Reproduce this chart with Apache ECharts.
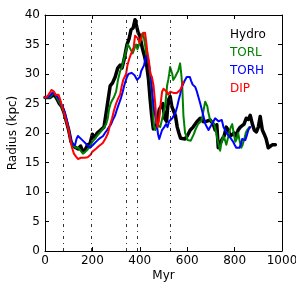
<!DOCTYPE html>
<html>
<head>
<meta charset="utf-8">
<script src="https://cdn.jsdelivr.net/npm/echarts@6/dist/echarts.min.js"></script>
<style>html,body{margin:0;padding:0;background:#fff;}#c{width:296px;height:296px;}</style>
</head>
<body>
<div id="c"></div>
<script>
const xTicks = [0, 200, 400, 600, 800, 1000];
const yTicks = [0, 5, 10, 15, 20, 25, 30, 35, 40];
const eventMyr = [77, 197, 342, 389, 528];

const hydroMyr = [0,10,20,30,40,50,60,70,80,90,100,110,120,130,140,150,160,170,180,190,200,210,220,232,240,249,262,275,285,296,307,317,325,334,346,355,363,372,380,387,393,400,410,420,430,437,443,450,457,465,473,482,490,497,505,513,520,528,535,541,550,558,565,572,580,591,600,613,625,641,655,669,683,697,710,718,725,731,739,748,756,765,773,782,790,799,807,815,824,832,840,849,858,866,875,883,892,900,908,917,925,933,942,950,959,966,972];
const hydroKpc = [26,26,26,26.3,26.5,25.8,25,24.5,23.5,22,20.5,18.5,17.8,17.5,17.3,17.8,16.8,17.2,18,18.2,19.8,19.2,20,20.4,20.2,21,24.5,28,28.5,29.5,31,31.5,31,32.5,35,36,37.5,37.8,39.2,39.3,37,36.5,34.5,33,31.2,29,26,23,20.7,20.5,21.5,24,24.5,25,22.5,22,25.5,26.2,24.5,23.9,23,21,20,19.1,19.2,19,19.5,20.5,21,21.9,22.5,21.9,22,22.2,21.5,20.5,21.4,17.5,17.2,19,19.5,21,20.5,19.5,19.8,20,19.5,20.5,21,21,21.5,22.5,22.3,23,21.5,20.5,20.2,21,22.8,20.5,19.8,19,17.5,17.8,18,18,18];

const torlMyr = [0,10,20,30,40,50,60,70,80,90,100,110,120,130,140,150,160,170,180,190,200,210,220,230,241,250,258,265,270,277,283,290,300,308,317,325,333,342,350,357,363,370,376,384,390,397,406,414,422,428,435,443,452,460,466,473,480,486,492,498,507,515,520,524,528,532,537,541,549,555,562,570,575,579,584,591,596,602,608,615,621,628,634,640,646,652,659,665,672,676,680,685,689,695,701,708,714,720,727,733,739,745,752,758,765,771,777,784,790,796,803,809,815,822,828,834,841,847,853,862];
const torlKpc = [26,26,26,26.5,26.8,26,25.2,24.5,23.5,22,20.5,18.5,17.8,17.5,17.5,17,16.5,16.8,17.2,17.8,18.5,19,19.5,20,20.5,21,21.5,22.5,24,25,25.5,26,27,29,30.5,31.2,31,34,35,34.5,34.5,33.5,33.5,35,34.2,34,36,37,35,33,32.5,30,26.5,21,20.5,21.5,21.5,21,22,23,24.5,28,29,30,31.2,31.5,30,29,29.5,30,30.5,31.8,30,28,23,20,19.5,18.8,18.5,18.7,19,19.8,20.5,21,21.5,21.8,22,23,24.5,25.3,25.5,24.5,23.5,22.5,22,21.7,21.5,20.5,19,18,17,18.5,19.5,19,18,19,20,21,21.5,20,18.5,19,20,18.5,17.5,18,19,20,20.5,21];

const torhMyr = [0,10,20,30,37,45,55,63,72,80,87,93,100,106,114,120,127,133,139,146,152,158,165,171,177,184,190,197,203,209,215,222,228,236,245,253,262,270,279,287,296,302,308,315,321,328,334,340,346,352,359,365,372,378,384,389,393,400,406,412,418,423,427,431,435,439,443,448,452,456,460,465,469,473,477,482,486,494,503,511,517,524,530,537,545,551,558,564,570,577,583,591,598,605,611,617,623,629,634,641,648,655,662,669,676,683,690,697,704,711,718,725,732,739,746,753,760,769,775,782,788,794,800,807,813,820,826,832,838,845,851,858,866];
const torhKpc = [26,26,26.3,26.8,27,26.5,26,25.5,24.5,24,23,22,20.5,19.5,18,17.8,18,19,19.5,19.2,19,18.8,18.5,18.3,18,17.8,17.5,17.8,18,18.3,18.5,18.8,19,19.2,19.5,20,20.5,21,21.5,22.3,23,23.8,24.5,25.3,26,27,28,28.8,29.5,30,30.3,30.2,30,29.8,29.5,29,28.8,29.5,30.5,31,31.5,32.5,33,33,32.5,31.5,30.5,29,27,25.5,24,23,22,21,19.8,19,19.5,20.5,21,21.5,21,22,22,22.5,22.8,23.5,24.5,25.6,26.5,27.8,28.3,29,29.5,29.8,29.5,28.8,28.2,28,27.8,27,26.7,25,23.9,22.8,21.6,21,20.5,21,21.5,21.8,22.5,22.2,22,21.8,22.2,21,20.5,19.8,19.5,19.2,19,18.5,18,17.5,17.2,17.5,18,19,19,18.8,19.5,20.5,21];

const dipMyr = [0,10,20,27,33,38,43,50,57,63,72,80,90,100,106,114,122,131,139,146,152,160,167,173,180,186,192,199,207,214,220,228,236,244,249,257,266,274,283,291,300,308,317,323,330,336,342,348,355,361,368,374,380,386,393,398,402,406,410,416,422,427,431,439,445,451,458,465,470,476,482,488,494,500,507,514,520,528,535,542,549,556,563,570,577,583];
const dipKpc = [26,26.2,26.8,27.3,27.5,27,26.5,26.8,26.5,25.8,24.5,23.5,22,20.5,19,17.5,16.5,16,15.6,15.5,15.8,16,15.8,15.7,15.9,16.2,16.3,16.8,17,17.3,17.5,17.8,18,18.3,18.5,19.2,20,21.3,22.5,23.8,25,25.8,26.5,27.8,29,29.5,30,31.5,32.5,33.2,33.5,34.5,36.5,36.5,36,35.3,35,36,36.8,37,37,35.5,34,32,30,29.5,28,25,22,21,22.5,25,27,27.5,27.3,27,26.5,27,27,26.8,26.5,26.8,26.8,27.3,27.8,28.7];

const zip = (a, b) => a.map((v, i) => [v, b[i]]);
const font = 'DejaVu Sans';

const chart = echarts.init(document.getElementById('c'), null, {renderer: 'canvas'});
const axisCommon = {
  type: 'value',
  axisLine: {show: true, onZero: false, lineStyle: {color: '#000', width: 1}},
  axisTick: {show: true, inside: true, length: 4, lineStyle: {color: '#000'}},
  splitLine: {show: false}
};
const lineSeries = (name, data, color, width) => ({
  name, type: 'line', data, showSymbol: false, symbol: 'none',
  lineStyle: {color, width, join: 'round', cap: 'round'}, itemStyle: {color},
  silent: true, animation: false, clip: true
});
chart.setOption({
  animation: false,
  backgroundColor: '#fff',
  grid: {left: 45, right: 14, top: 15, bottom: 45, containLabel: false, outerBoundsMode: 'none'},
  legend: {
    orient: 'vertical', left: 225, top: 28, padding: 0, itemWidth: 0, itemHeight: 14, itemGap: 4,
    selectedMode: false, icon: 'rect',
    textStyle: {fontFamily: font, fontSize: 12},
    data: [
      {name: 'Hydro', textStyle: {color: '#000000'}},
      {name: 'TORL', textStyle: {color: '#008000'}},
      {name: 'TORH', textStyle: {color: '#0000ff'}},
      {name: 'DIP', textStyle: {color: '#ff0000'}}
    ]
  },
  xAxis: [
    Object.assign({}, axisCommon, {
      position: 'bottom', min: xTicks[0], max: xTicks[xTicks.length - 1], interval: 200,
      name: 'Myr', nameLocation: 'middle', nameGap: 19, nameMoveOverlap: false,
      nameTextStyle: {fontFamily: font, fontSize: 12, color: '#000'},
      axisLabel: {fontFamily: font, fontSize: 12, color: '#000', margin: 4, formatter: v => String(v), hideOverlap: false}
    }),
    Object.assign({}, axisCommon, {
      position: 'top', min: xTicks[0], max: xTicks[xTicks.length - 1], interval: 200,
      axisLabel: {show: false}
    })
  ],
  yAxis: [
    Object.assign({}, axisCommon, {
      position: 'left', min: yTicks[0], max: yTicks[yTicks.length - 1], interval: 5,
      name: 'Radius (kpc)', nameLocation: 'middle', nameGap: 26, nameMoveOverlap: false,
      nameTextStyle: {fontFamily: font, fontSize: 12, color: '#000'},
      axisLabel: {fontFamily: font, fontSize: 12, color: '#000', margin: 5, formatter: v => String(v)}
    }),
    Object.assign({}, axisCommon, {
      position: 'right', min: yTicks[0], max: yTicks[yTicks.length - 1], interval: 5,
      axisLabel: {show: false}
    })
  ],
  series: [
    lineSeries('Hydro', zip(hydroMyr, hydroKpc), '#000000', 3.5),
    lineSeries('TORL', zip(torlMyr, torlKpc), '#008000', 2),
    lineSeries('TORH', zip(torhMyr, torhKpc), '#0000ff', 2),
    lineSeries('DIP', zip(dipMyr, dipKpc), '#ff0000', 2),
    {
      name: 'events', type: 'line', data: [], silent: true,
      markLine: {
        symbol: 'none', silent: true, animation: false, label: {show: false},
        lineStyle: {color: '#333', width: 1, type: [3, 4, 1, 4]},
        data: eventMyr.map(v => ({xAxis: v}))
      }
    }
  ]
});
</script>
</body>
</html>
